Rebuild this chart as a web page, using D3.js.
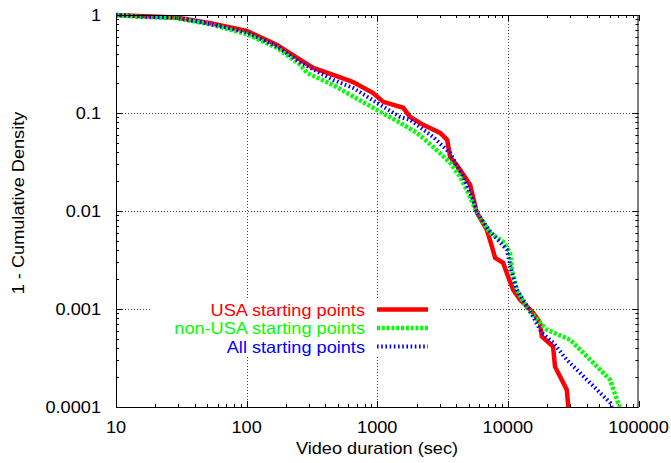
<!DOCTYPE html>
<html>
<head>
<meta charset="utf-8">
<script src="https://cdn.jsdelivr.net/npm/d3@7"></script>
<style>
    body { margin: 0; background: #fff; }
    text { font-family: 'Liberation Sans', Arial, sans-serif; }
</style>
</head>
<body>
<div id="chart"></div>
<script>
// data (duration in sec, 1 - CDF)
let usaDuration = [10, 15, 29, 53, 100, 171, 258, 324, 460, 654, 931, 1111, 1581, 1788, 2248, 3033, 3430, 3615, 4313, 5142, 5790, 6906, 7541, 7985, 9200, 10050, 10970, 12410, 15600, 17630, 18190, 22180, 22960, 28240, 29040]
let usaCcdf = [1, 0.975, 0.943, 0.823, 0.69, 0.494, 0.348, 0.288, 0.245, 0.207, 0.160, 0.130, 0.113, 0.091, 0.0757, 0.0627, 0.0532, 0.0357, 0.0263, 0.0185, 0.0096, 0.00643, 0.00435, 0.00333, 0.00296, 0.00213, 0.00157, 0.00124, 0.000916, 0.000725, 0.000526, 0.000413, 0.000258, 0.000150, 0.0001]

let nonUsaDuration = [10, 15, 29, 53, 100, 171, 258, 290, 460, 621, 995, 1500, 2012, 2680, 3615, 4313, 4966, 5790, 7310, 9200, 10400, 10720, 11700, 13960, 17630, 19860, 29900, 44900, 60500, 69700, 72100]
let nonUsaCcdf = [1, 0.96, 0.93, 0.80, 0.64, 0.461, 0.309, 0.256, 0.193, 0.153, 0.1075, 0.0793, 0.0627, 0.0451, 0.031, 0.0223, 0.0153, 0.0096, 0.006, 0.00485, 0.00375, 0.00251, 0.00157, 0.00103, 0.000725, 0.000615, 0.000486, 0.000284, 0.00019, 0.000111, 0.0001]

let allDuration = [10, 15, 29, 53, 100, 171, 258, 460, 654, 995, 1500, 1788, 2680, 3615, 4550, 5420, 5790, 7310, 9820, 10600, 11700, 14290, 18190, 22180, 28240, 40200, 60500, 62600]
let allCcdf = [1, 0.968, 0.937, 0.81, 0.664, 0.477, 0.328, 0.218, 0.180, 0.127, 0.091, 0.085, 0.057, 0.039, 0.0223, 0.013, 0.0096, 0.0062, 0.00402, 0.00251, 0.00157, 0.00103, 0.000573, 0.000454, 0.000304, 0.00019, 0.000111, 0.0001]

let xTicks = [10, 100, 1000, 10000, 100000]
let yTicks = [0.0001, 0.001, 0.01, 0.1, 1]
let xTickLabels = ['10', '100', '1000', '10000', '100000']
let yTickLabels = ['0.0001', '0.001', '0.01', '0.1', '1']

let seriesNames = ['USA starting points', 'non-USA starting points', 'All starting points']
let seriesColors = ['#ff0000', '#00ff00', '#0000ff']

let width = 671
let height = 463
let plotLeft = 116, plotRight = 638.5, plotTop = 15, plotBottom = 407
let fontSize = 16.5
let stretch = 1.1 // the reference font is a bit wider than Liberation Sans

let svg = d3.select('#chart').append('svg')
    .attr('width', width)
    .attr('height', height)

let x = d3.scaleLog().domain([10, 100000]).range([plotLeft, plotRight])
let y = d3.scaleLog().domain([0.0001, 1]).range([plotBottom, plotTop])

// stretch a text node horizontally to match the wide gnuplot font
function widen (sel) {
    sel.each(function () {
        let w = this.getComputedTextLength()
        d3.select(this).attr('textLength', w * stretch).attr('lengthAdjust', 'spacingAndGlyphs')
    })
}

// grid (major decades only, not at the frame)
let grid = svg.append('g')
    .attr('stroke', '#444')
    .attr('stroke-width', 1)
    .attr('stroke-dasharray', '1,2')
grid.selectAll('line.gx')
    .data(xTicks.slice(1, -1))
    .enter().append('line')
    .attr('x1', d => Math.round(x(d)) + 0.5).attr('x2', d => Math.round(x(d)) + 0.5)
    .attr('y1', plotTop).attr('y2', plotBottom)
grid.selectAll('line.gy')
    .data(yTicks.slice(1, -1))
    .enter().append('line')
    .attr('y1', d => Math.round(y(d)) + 0.5).attr('y2', d => Math.round(y(d)) + 0.5)
    .attr('x1', plotLeft).attr('x2', plotRight)

// key box is opaque and hides the grid behind it
svg.append('rect')
    .attr('x', 150).attr('y', 299)
    .attr('width', 288).attr('height', 58)
    .attr('fill', '#fff')

// minor log ticks
let xMinor = []
let yMinor = []
for (let p = 1; p < 5; p++) {
    for (let m = 2; m < 10; m++) xMinor.push(m * Math.pow(10, p))
}
for (let p = -4; p < 0; p++) {
    for (let m = 2; m < 10; m++) yMinor.push(m * Math.pow(10, p))
}

let ticks = svg.append('g').attr('stroke', '#000').attr('stroke-width', 1)
function xTickLines (data, len) {
    data.forEach(function (d) {
        let px = Math.round(x(d)) + 0.5
        ticks.append('line').attr('x1', px).attr('x2', px).attr('y1', plotBottom).attr('y2', plotBottom - len)
        ticks.append('line').attr('x1', px).attr('x2', px).attr('y1', plotTop).attr('y2', plotTop + len)
    })
}
function yTickLines (data, len) {
    data.forEach(function (d) {
        let py = Math.round(y(d)) + 0.5
        ticks.append('line').attr('y1', py).attr('y2', py).attr('x1', plotLeft).attr('x2', plotLeft + len)
        ticks.append('line').attr('y1', py).attr('y2', py).attr('x1', plotRight).attr('x2', plotRight - len)
    })
}
xTickLines(xTicks, 6)
xTickLines(xMinor, 3)
yTickLines(yTicks, 6)
yTickLines(yMinor, 3)

// curves
svg.append('clipPath').attr('id', 'plotclip')
    .append('rect').attr('x', plotLeft).attr('y', plotTop - 3).attr('width', plotRight - plotLeft).attr('height', plotBottom - plotTop + 3)

let line = d3.line()
    .x(d => x(d[0]))
    .y(d => y(d[1]))

let series = [
    d3.zip(usaDuration, usaCcdf),
    d3.zip(nonUsaDuration, nonUsaCcdf),
    d3.zip(allDuration, allCcdf)
]
let widths = [4.5, 4.5, 4]
let dashes = [null, '3,1.8', '1.6,2.6']

let curves = svg.append('g').attr('clip-path', 'url(#plotclip)')
series.forEach(function (s, i) {
    curves.append('path')
        .datum(s)
        .attr('d', line)
        .attr('fill', 'none')
        .attr('stroke', seriesColors[i])
        .attr('stroke-width', widths[i])
        .attr('stroke-dasharray', dashes[i])
        .attr('stroke-linejoin', 'miter')
})

// frame
svg.append('rect')
    .attr('x', plotLeft + 0.5).attr('y', plotTop + 0.5)
    .attr('width', plotRight - plotLeft - 1).attr('height', plotBottom - plotTop)
    .attr('fill', 'none')
    .attr('stroke', '#000')
    .attr('stroke-width', 1)

// tick labels
svg.selectAll('text.xt')
    .data(xTicks)
    .enter().append('text')
    .attr('x', d => x(d))
    .attr('y', 433)
    .attr('text-anchor', 'middle')
    .attr('font-size', fontSize)
    .text((d, i) => xTickLabels[i])
    .call(widen)

svg.selectAll('text.yt')
    .data(yTicks)
    .enter().append('text')
    .attr('x', 101)
    .attr('y', d => y(d) + 6)
    .attr('text-anchor', 'end')
    .attr('font-size', fontSize)
    .text((d, i) => yTickLabels[i])
    .call(widen)

// axis titles
svg.append('text')
    .attr('x', 377)
    .attr('y', 454)
    .attr('text-anchor', 'middle')
    .attr('font-size', fontSize)
    .text('Video duration (sec)')
    .call(widen)

svg.append('text')
    .attr('transform', 'translate(24,203) rotate(-90)')
    .attr('text-anchor', 'middle')
    .attr('font-size', fontSize)
    .text('1 - Cumulative Density')
    .call(widen)

// key
let keyRows = [309.5, 328, 346.5]
seriesNames.forEach(function (name, i) {
    svg.append('text')
        .attr('x', 365)
        .attr('y', keyRows[i] + 6)
        .attr('text-anchor', 'end')
        .attr('font-size', fontSize)
        .attr('fill', seriesColors[i])
        .text(name)
        .call(widen)
    svg.append('line')
        .attr('x1', 377).attr('x2', 428)
        .attr('y1', keyRows[i]).attr('y2', keyRows[i])
        .attr('stroke', seriesColors[i])
        .attr('stroke-width', widths[i])
        .attr('stroke-dasharray', dashes[i])
})
</script>
</body>
</html>
